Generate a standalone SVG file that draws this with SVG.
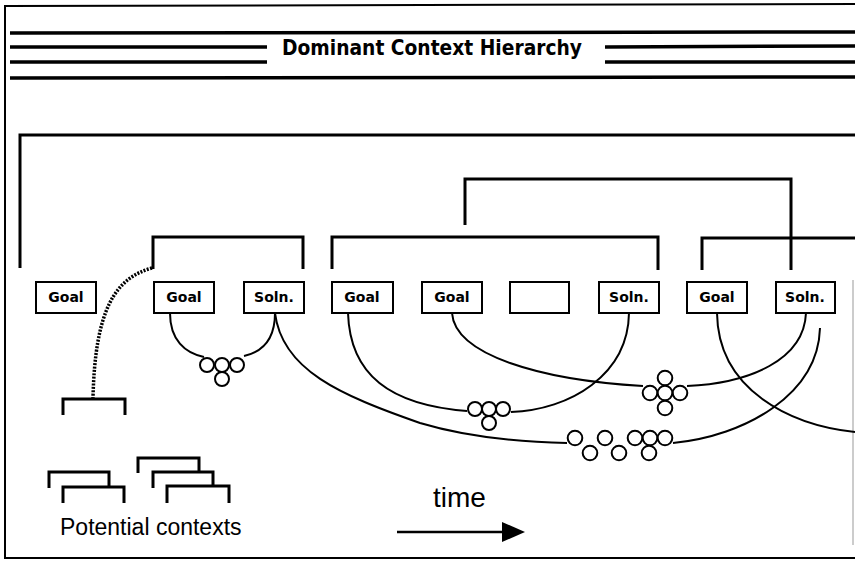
<svg xmlns="http://www.w3.org/2000/svg" width="855" height="561" viewBox="0 0 855 561">
<style>
.frame{stroke:#000;fill:none;stroke-width:2}
.hl{stroke:#000;stroke-width:3.5;fill:none}
.br{stroke:#000;stroke-width:3;fill:none}
.box rect{fill:#fff;stroke:#000;stroke-width:2}
.box text{font-family:"DejaVu Sans",sans-serif;font-size:14px;font-weight:bold;text-anchor:middle;fill:#000}
.cv{stroke:#000;stroke-width:2;fill:none}
.cl circle{fill:#fff;stroke:#000;stroke-width:2}
.lbl{font-family:"Liberation Sans",Arial,sans-serif;fill:#000}
</style>
<rect width="855" height="561" fill="#fff"/>
<g id="frame">
<line class="frame" x1="5" y1="5" x2="5" y2="559"/>
<line class="frame" x1="5" y1="6" x2="855" y2="4"/>
<line class="frame" x1="5" y1="558" x2="855" y2="558"/>
<line x1="853" y1="280" x2="853" y2="545" stroke="#bbb" stroke-width="1.5"/>
</g>
<g id="header">
<line class="hl" x1="10" y1="33" x2="855" y2="32"/>
<line class="hl" x1="10" y1="47" x2="267" y2="47"/>
<line class="hl" x1="605" y1="47" x2="855" y2="46"/>
<line class="hl" x1="10" y1="62" x2="267" y2="62"/>
<line class="hl" x1="605" y1="62" x2="855" y2="62"/>
<line class="hl" x1="10" y1="78" x2="855" y2="77"/>
<text x="432" y="55" font-family="DejaVu Sans Condensed, DejaVu Sans, sans-serif" font-weight="bold" font-size="21" text-anchor="middle" textLength="300" lengthAdjust="spacingAndGlyphs">Dominant Context Hierarchy</text>
</g>
<g id="hierarchy">
<path class="br" d="M20,268 V135 H855"/>
<path class="br" d="M465,225 V179 H791 V270"/>
<path class="br" d="M153,269 V237 H303 V269"/>
<path class="br" d="M332,269 V237 H658 V270"/>
<path class="br" d="M702,270 V238 H855"/>
</g>
<g id="goal1" class="box"><rect x="36" y="282" width="60" height="31"/><text x="66" y="302">Goal</text></g>
<g id="goal2" class="box"><rect x="154" y="282" width="60" height="31"/><text x="184" y="302">Goal</text></g>
<g id="soln1" class="box"><rect x="244" y="282" width="60" height="31"/><text x="274" y="302">Soln.</text></g>
<g id="goal3" class="box"><rect x="332" y="282" width="61" height="31"/><text x="362" y="302">Goal</text></g>
<g id="goal4" class="box"><rect x="422" y="282" width="60" height="31"/><text x="452" y="302">Goal</text></g>
<g id="empty" class="box"><rect x="510" y="282" width="59" height="31"/></g>
<g id="soln2" class="box"><rect x="599" y="282" width="60" height="31"/><text x="629" y="302">Soln.</text></g>
<g id="goal5" class="box"><rect x="687" y="282" width="60" height="31"/><text x="717" y="302">Goal</text></g>
<g id="soln3" class="box"><rect x="776" y="282" width="59" height="31"/><text x="805" y="302">Soln.</text></g>
<g id="connectors">
<path class="cv" d="M170,313 C170,340 185,353 204,357"/>
<path class="cv" d="M244,356 C262,352 275,340 275,313"/>
<path class="cv" d="M275,313 C282,370 340,395 420,423 C470,438 520,442 567,443"/>
<path class="cv" d="M673,443 C745,436 818,395 820,328"/>
<path class="cv" d="M717,313 C718,390 790,425 855,432"/>
<path class="cv" d="M806,313 C804,360 750,383 687,386"/>
<path class="cv" d="M452,313 C455,355 540,380 643,386"/>
<path class="cv" d="M629,313 C628,375 570,410 511,412"/>
<path class="cv" d="M348,313 C350,375 390,405 467,411"/>
<path d="M152,268 C115,278 95,310 93,398" fill="none" stroke="#000" stroke-width="3.5" stroke-dasharray="2 1.4"/>
</g>
<g id="cluster1" class="cl">
<circle cx="207" cy="365" r="7"/><circle cx="222" cy="365" r="7"/><circle cx="237" cy="365" r="7"/><circle cx="222" cy="379" r="7"/>
</g>
<g id="cluster2" class="cl">
<circle cx="575" cy="438" r="7.3"/><circle cx="590" cy="453" r="7.3"/><circle cx="605" cy="438" r="7.3"/><circle cx="619" cy="453" r="7.3"/><circle cx="635" cy="438" r="7.3"/><circle cx="650" cy="438" r="7.3"/><circle cx="665" cy="438" r="7.3"/><circle cx="649" cy="453" r="7.3"/>
</g>
<g id="cluster3" class="cl">
<circle cx="665" cy="378" r="7.3"/><circle cx="650" cy="393" r="7.3"/><circle cx="680" cy="393" r="7.3"/><circle cx="665" cy="408" r="7.3"/><circle cx="665" cy="393" r="7.3"/>
</g>
<g id="cluster4" class="cl">
<circle cx="475" cy="409" r="7"/><circle cx="489" cy="409" r="7"/><circle cx="503" cy="409" r="7"/><circle cx="489" cy="423" r="7"/>
</g>
<g id="potential">
<path class="br" d="M63,415 V399 H125 V415"/>
<path class="br" d="M49,488 V472 H109 V486"/>
<path class="br" d="M63,503 V487 H124 V503"/>
<path class="br" d="M138,473 V458 H199 V472"/>
<path class="br" d="M153,488 V472 H213 V486"/>
<path class="br" d="M167,503 V486 H229 V503"/>
<text class="lbl" x="60" y="535" font-size="23">Potential contexts</text>
</g>
<g id="time">
<text class="lbl" x="433" y="507" font-size="28">time</text>
<line x1="397" y1="532" x2="505" y2="532" stroke="#000" stroke-width="2.5"/>
<polygon points="502,522 525,532 502,542" fill="#000"/>
</g>
</svg>
